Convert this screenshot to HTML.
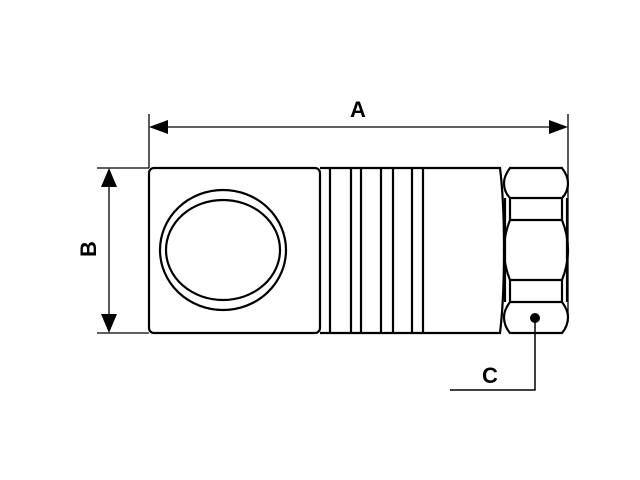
<!DOCTYPE html>
<html><head><style>body{margin:0;background:#fff}svg{display:block}</style></head><body>
<svg width="640" height="480" viewBox="0 0 640 480" xmlns="http://www.w3.org/2000/svg" font-family="Liberation Sans, sans-serif">
<g fill="none" stroke="#000">
<!-- extension lines -->
<line x1="149" y1="114" x2="149" y2="168" stroke-width="1.3"/>
<line x1="568" y1="114" x2="568" y2="322" stroke-width="1.3"/>
<line x1="97" y1="168" x2="149" y2="168" stroke-width="1.3"/>
<line x1="97" y1="333" x2="149" y2="333" stroke-width="1.3"/>
<!-- A dim -->
<line x1="160" y1="127" x2="558" y2="127" stroke-width="1.3"/>
<!-- B dim -->
<line x1="109" y1="178" x2="109" y2="323" stroke-width="1.3"/>
<!-- body -->
<g stroke-width="2.2">
<rect x="149" y="168" width="171" height="165" rx="5"/>
<ellipse cx="223" cy="250" rx="63" ry="60"/>
<ellipse cx="223" cy="250" rx="57" ry="50"/>
<path d="M320 168 H500 Q504 200 504 250 Q504 300 500 333 H320"/>
<line x1="330" y1="168" x2="330" y2="333"/>
<line x1="351" y1="168" x2="351" y2="333"/>
<line x1="361" y1="168" x2="361" y2="333"/>
<line x1="381" y1="168" x2="381" y2="333"/>
<line x1="393" y1="168" x2="393" y2="333"/>
<line x1="412" y1="168" x2="412" y2="333"/>
<line x1="423" y1="168" x2="423" y2="333"/>
<!-- nut -->
<path d="M510 168 H562 Q568 176 568 183 Q568 192 562 198 H510 Q504 192 504 183 Q504 176 510 168 Z"/>
<path d="M510 302 H562 Q568 310 568 317 Q568 326 562 333 H510 Q504 326 504 317 Q504 310 510 302 Z"/>
<path d="M510 220 H562 Q568 235 568 250 Q568 265 562 280 H510 Q504 265 504 250 Q504 235 510 220 Z"/>
<line x1="505" y1="198" x2="505" y2="302"/>
<line x1="567" y1="198" x2="567" y2="302"/>
<line x1="510" y1="198" x2="510" y2="220"/>
<line x1="562" y1="198" x2="562" y2="220"/>
<line x1="510" y1="280" x2="510" y2="302"/>
<line x1="562" y1="280" x2="562" y2="302"/>
</g>
<!-- leader C -->
<polyline points="535,318 535,390 450,390" stroke-width="1.5"/>
</g>
<g fill="#000">
<circle cx="535" cy="318" r="5"/>
<polygon points="149,127 168,120 168,134"/>
<polygon points="568,127 549,120 549,134"/>
<polygon points="109,168 101,187 117,187"/>
<polygon points="109,333 101,314 117,314"/>
</g>
<text x="358" y="117" font-size="22" font-weight="bold" text-anchor="middle">A</text>
<text x="490" y="383" font-size="22" font-weight="bold" text-anchor="middle">C</text>
<text transform="translate(96,249) rotate(-90)" font-size="22" font-weight="bold" text-anchor="middle">B</text>
</svg>
</body></html>
